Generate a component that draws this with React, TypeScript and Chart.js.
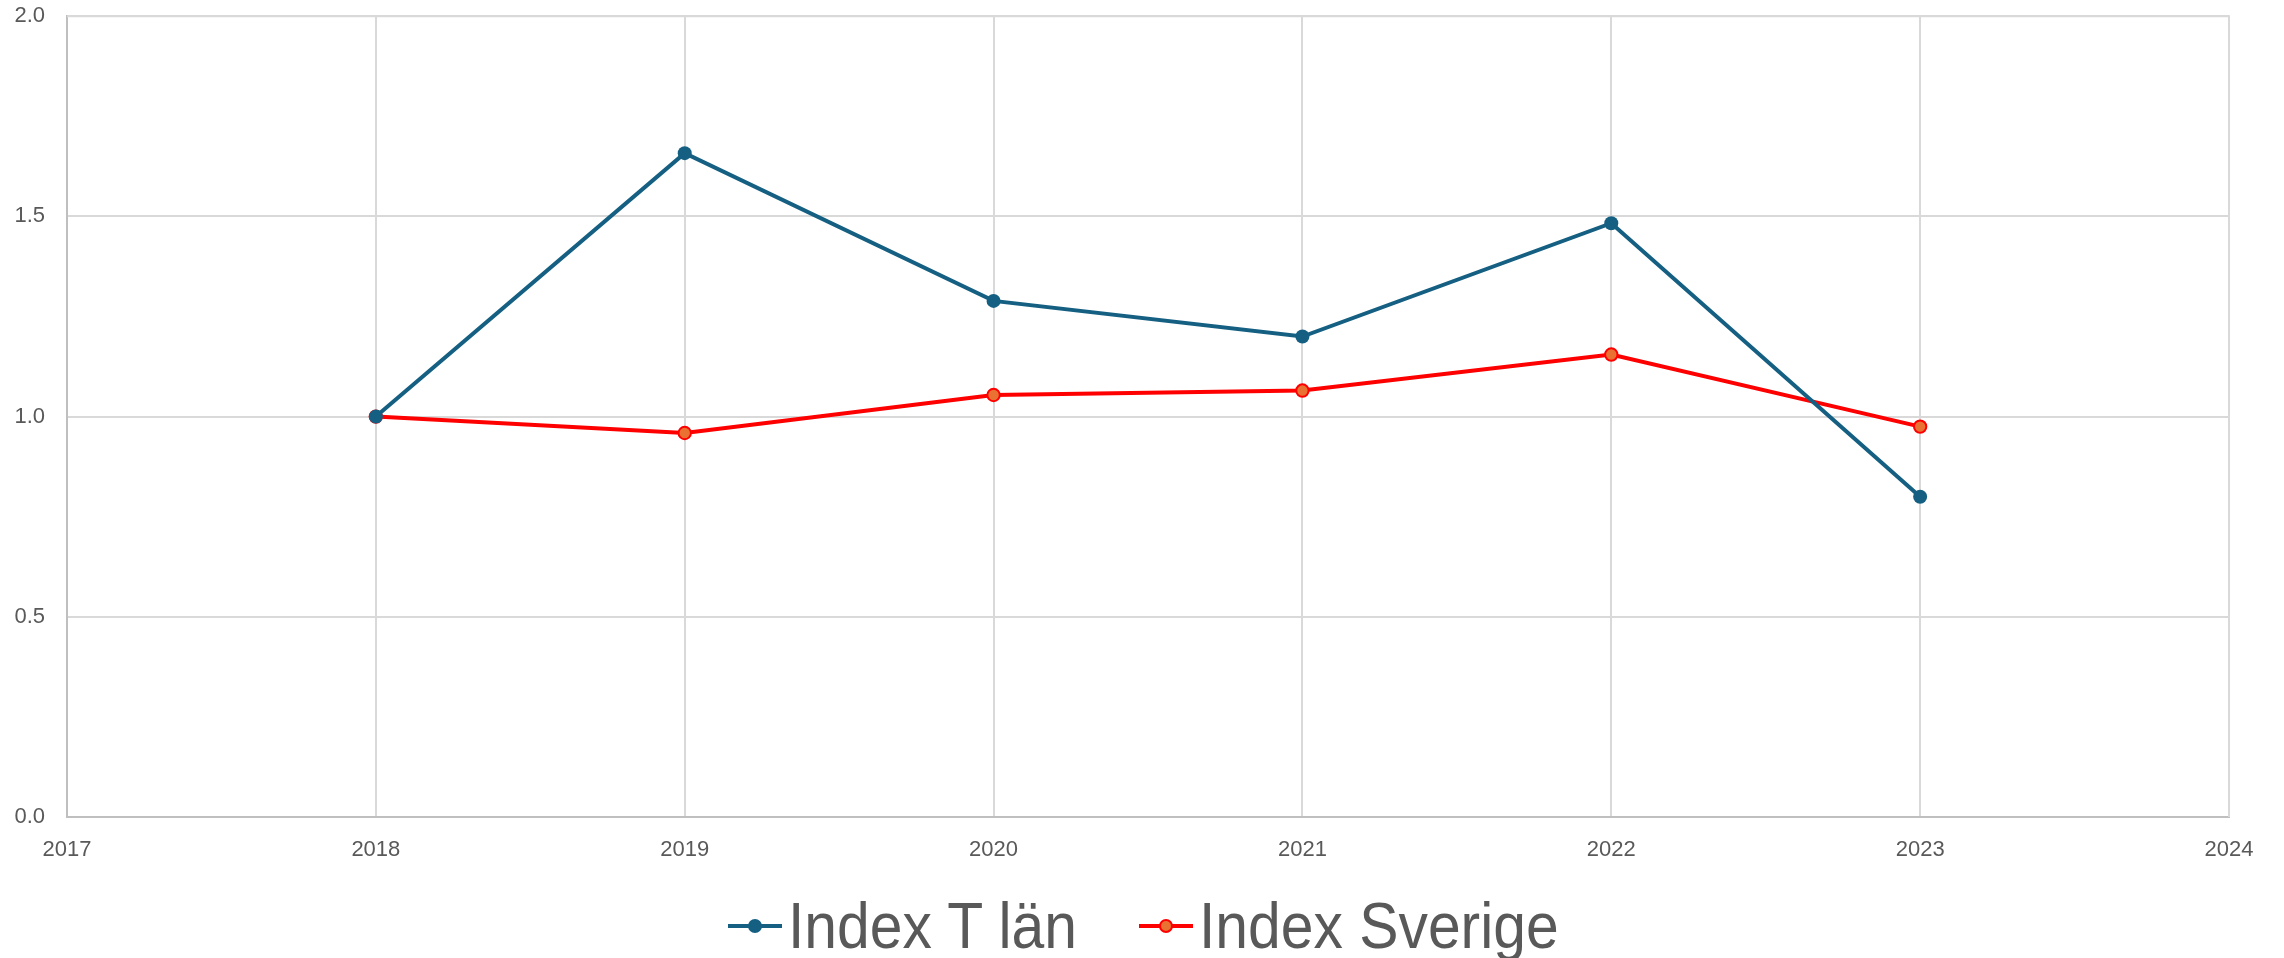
import React, { useEffect, useRef } from "react";
import { Chart, registerables } from "chart.js";

Chart.register(...registerables);

const years = [2018, 2019, 2020, 2021, 2022, 2023];
const indexTLan = [1.0, 1.658, 1.289, 1.2, 1.483, 0.8];
const indexSverige = [1.0, 0.959, 1.054, 1.065, 1.155, 0.975];
const seriesNames = ["Index T län", "Index Sverige"];
const xMin = 2017;
const xMax = 2024;
const yMin = 0;
const yMax = 2;

const BLUE = "#156082";
const RED = "#FF0000";
const ORANGE = "#E97132";
const TEXT = "#595959";
const GRID = "#d9d9d9";

const SHIFT = 19;

export default function App() {
  const ref = useRef<HTMLCanvasElement | null>(null);

  useEffect(() => {
    const canvas = ref.current;
    if (!canvas) return;
    const chart = new Chart(canvas, {
      type: "line",
      data: {
        datasets: [
          {
            label: seriesNames[0],
            data: years.map((y, i) => ({ x: y, y: indexTLan[i] })),
            borderColor: BLUE,
            backgroundColor: BLUE,
            borderWidth: 4,
            pointRadius: 7,
            pointBorderWidth: 0,
            pointBackgroundColor: BLUE,
            pointBorderColor: BLUE,
            tension: 0,
          },
          {
            label: seriesNames[1],
            data: years.map((y, i) => ({ x: y, y: indexSverige[i] })),
            borderColor: RED,
            backgroundColor: ORANGE,
            borderWidth: 4,
            pointRadius: 6.2,
            pointBorderWidth: 2,
            pointBackgroundColor: ORANGE,
            pointBorderColor: RED,
            tension: 0,
          },
        ],
      },
      options: {
        responsive: false,
        animation: false,
        layout: { padding: { left: 0, right: 55, top: 15, bottom: 0 } },
        plugins: { legend: { display: false }, tooltip: { enabled: false } },
        scales: {
          x: {
            type: "linear",
            min: xMin,
            max: xMax,
            afterFit: (s: any) => {
              s.height = 141;
            },
            ticks: {
              stepSize: 1,
              color: TEXT,
              font: { family: "Liberation Sans, Arial", size: 22 },
              padding: 20,
              callback: (v: any) => String(v),
              maxRotation: 0,
            },
            grid: { color: GRID, lineWidth: 2, drawTicks: false },
            border: { color: "#bfbfbf", width: 2 },
          },
          y: {
            min: yMin,
            max: yMax,
            afterFit: (s: any) => {
              s.width = 67;
            },
            ticks: {
              stepSize: 0.5,
              color: TEXT,
              font: { family: "Liberation Sans, Arial", size: 22 },
              padding: 22,
              callback: (v: any) => Number(v).toFixed(1),
            },
            grid: { color: GRID, lineWidth: 2, drawTicks: false },
            border: { color: "#bfbfbf", width: 2 },
          },
        },
      },
      plugins: [
        {
          id: "frame",
          afterDraw(c: any) {
            const { ctx, chartArea } = c;
            ctx.save();
            ctx.strokeStyle = GRID;
            ctx.lineWidth = 2;
            ctx.beginPath();
            ctx.moveTo(chartArea.left, chartArea.top);
            ctx.lineTo(chartArea.right, chartArea.top);
            ctx.lineTo(chartArea.right, chartArea.bottom);
            ctx.stroke();
            ctx.restore();
          },
        },
      ],
    });
    return () => chart.destroy();
  }, []);

  const legendItem = (name: string, line: string, fill: string, border: string, lineLeft: number, textLeft: number) => (
    <React.Fragment key={name}>
      <div style={{ position: "absolute", left: lineLeft, top: 924, width: 54, height: 4, background: line }} />
      <div
        style={{
          position: "absolute",
          left: lineLeft + 27 - 7,
          top: 926 - 7,
          width: 14,
          height: 14,
          borderRadius: "50%",
          background: fill,
          boxSizing: "border-box",
          border: `2px solid ${border}`,
        }}
      />
      <span
        style={{
          position: "absolute",
          left: textLeft,
          top: 889,
          fontFamily: "Liberation Sans, Arial, sans-serif",
          fontSize: 65,
          lineHeight: "73px",
          color: TEXT,
          whiteSpace: "nowrap",
          transform: "scaleX(0.905)",
          transformOrigin: "left center",
        }}
      >
        {name}
      </span>
    </React.Fragment>
  );

  return (
    <div style={{ position: "fixed", left: 0, top: 0, width: 2284, height: 958, background: "#fff", overflow: "hidden" }}>
      <canvas
        ref={ref}
        width={2284}
        height={958 + SHIFT}
        style={{ display: "block", position: "absolute", left: 0, top: -SHIFT }}
      />
      {legendItem(seriesNames[0], BLUE, BLUE, BLUE, 728, 788)}
      {legendItem(seriesNames[1], RED, ORANGE, RED, 1139, 1199)}
    </div>
  );
}
